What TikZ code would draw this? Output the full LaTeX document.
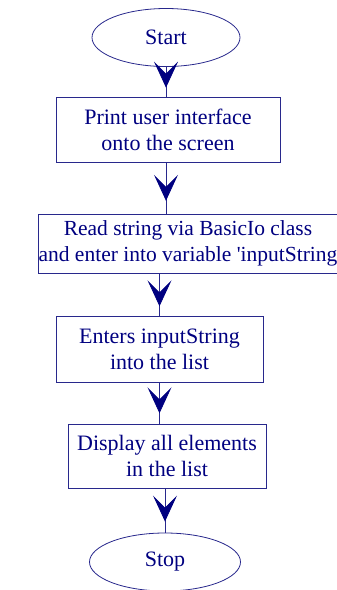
\documentclass[tikz,border=0pt]{standalone}
\usepackage{fontspec}
\setmainfont{Liberation Serif}
\usetikzlibrary{arrows.meta,decorations.markings,shapes.geometric}
\definecolor{navyblue}{RGB}{0,0,128}
\definecolor{linenavy}{RGB}{40,40,140}
\begin{document}
\begin{tikzpicture}[x=1pt,y=-1pt,
  every node/.style={text=navyblue,font=\fontsize{22}{26}\selectfont,align=center,inner sep=0pt},
  terminal/.style={ellipse,draw=linenavy,line width=0.8pt},
  stepbox/.style={rectangle,draw=linenavy,line width=0.8pt},
  flowline/.style={draw=linenavy,line width=0.8pt,
    decoration={markings,mark=at position #1 with {\arrow[navyblue]{Stealth[length=26pt,width=24pt,inset=12pt]}}},
    postaction=decorate},
  flowline/.default=0.75]
\useasboundingbox (0,0) rectangle (337,590);

%start and stop
\node[terminal,minimum width=148pt,minimum height=58pt] (start) at (166,37.5) {Start};
\node[terminal,minimum width=151pt,minimum height=58pt] (stop) at (165,562) {Stop};

%process boxes
\node[stepbox,minimum width=224pt,minimum height=65pt] (print) at (168,129.5)
  {Print user interface\\onto the screen};
\node[stepbox,minimum width=300pt,minimum height=59pt,font=\fontsize{21.5}{26}\selectfont] (read) at (188,243.5)
  {Read string via BasicIo class\\and enter into variable \textquotesingle inputString};
\node[stepbox,minimum width=207pt,minimum height=66pt] (enter) at (159.5,349)
  {Enters inputString\\into the list};
\node[stepbox,minimum width=198pt,minimum height=64pt] (show) at (167,456)
  {Display all elements\\in the list};

%arrows
\draw[flowline=0.7] (start) -- (start |- print.north);
\draw[flowline] (print.south -| start) -- (read.north -| start);
\draw[flowline=0.78] (read.south -| enter.south) -- (enter.north);
\draw[flowline] (enter.south) -- (show.north -| enter.south);
\draw[flowline] (show.south -| stop) -- (stop);

\end{tikzpicture}
\end{document}
